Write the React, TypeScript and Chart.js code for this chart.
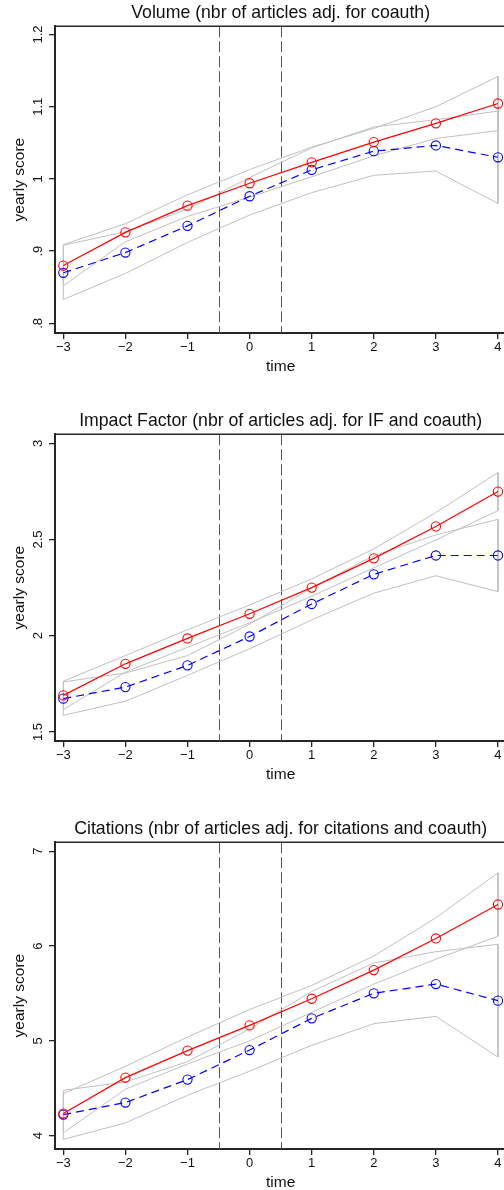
import React, { useEffect, useRef } from 'react';
import { Chart, registerables } from 'chart.js';

Chart.register(...registerables);

// ---------- shared ----------
const timePoints = [-3, -2, -1, 0, 1, 2, 3, 4];
const xTickLabels = ['\u22123', '\u22122', '\u22121', '0', '1', '2', '3', '4'];
const refLines = [-0.5, 0.5];
const xRange = [-3.134, 4.134];

// ---------- panel 1: Volume ----------
const volTitle = 'Volume (nbr of articles adj. for coauth)';
const volRed = [0.880, 0.926, 0.963, 0.994, 1.023, 1.051, 1.077, 1.1045];
const volRedUpper = [0.909, 0.938, 0.978, 1.013, 1.044, 1.070, 1.100, 1.142];
const volRedLower = [0.852, 0.913, 0.948, 0.975, 1.003, 1.032, 1.056, 1.067];
const volBlue = [0.870, 0.898, 0.935, 0.976, 1.0126, 1.0385, 1.0464, 1.030];
const volBlueUpper = [0.908, 0.927, 0.958, 1.002, 1.043, 1.072, 1.082, 1.094];
const volBlueLower = [0.833, 0.869, 0.912, 0.950, 0.981, 1.005, 1.011, 0.966];
const volYTicks = [0.8, 0.9, 1.0, 1.1, 1.2];
const volYLabels = ['.8', '.9', '1', '1.1', '1.2'];
const volYRange = [0.7866, 1.2115];

// ---------- panel 2: Impact Factor ----------
const ifTitle = 'Impact Factor (nbr of articles adj. for IF and coauth)';
const ifRed = [1.690, 1.854, 1.986, 2.114, 2.250, 2.402, 2.568, 2.749];
const ifRedUpper = [1.764, 1.897, 2.031, 2.160, 2.295, 2.451, 2.640, 2.848];
const ifRedLower = [1.616, 1.811, 1.940, 2.067, 2.205, 2.353, 2.498, 2.650];
const ifBlue = [1.673, 1.733, 1.846, 1.996, 2.165, 2.319, 2.417, 2.417];
const ifBlueUpper = [1.760, 1.806, 1.897, 2.060, 2.248, 2.416, 2.524, 2.605];
const ifBlueLower = [1.586, 1.660, 1.794, 1.932, 2.082, 2.221, 2.312, 2.229];
const ifYTicks = [1.5, 2, 2.5, 3];
const ifYLabels = ['1.5', '2', '2.5', '3'];
const ifYRange = [1.453, 3.047];

// ---------- panel 3: Citations ----------
const citTitle = 'Citations (nbr of articles adj. for citations and coauth)';
const citRed = [4.233, 4.612, 4.897, 5.163, 5.444, 5.746, 6.080, 6.438];
const citRedUpper = [4.443, 4.731, 5.040, 5.330, 5.585, 5.894, 6.298, 6.772];
const citRedLower = [4.030, 4.490, 4.756, 5.000, 5.300, 5.598, 5.862, 6.104];
const citBlue = [4.222, 4.349, 4.591, 4.903, 5.237, 5.501, 5.599, 5.424];
const citBlueUpper = [4.478, 4.566, 4.780, 5.126, 5.521, 5.821, 5.940, 6.019];
const citBlueLower = [3.960, 4.134, 4.426, 4.680, 4.953, 5.181, 5.258, 4.829];
const citYTicks = [4, 5, 6, 7];
const citYLabels = ['4', '5', '6', '7'];
const citYRange = [3.859, 7.095];

const FONT = "'Liberation Sans', Arial, Helvetica, sans-serif";
const AXIS_COLOR = '#262626';
const TEXT_COLOR = '#111';
const BAND_COLOR = '#c0c0c0';

type PanelProps = {
  title: string;
  red: number[];
  redUpper: number[];
  redLower: number[];
  blue: number[];
  blueUpper: number[];
  blueLower: number[];
  yTicks: number[];
  yLabels: string[];
  yRange: number[];
  top: number;
};

const toPoints = (vals: number[]) => timePoints.map((x, i) => ({ x, y: vals[i] }));

const bandPolygon = (upper: number[], lower: number[]) => {
  const up = timePoints.map((x, i) => ({ x, y: upper[i] }));
  const low = timePoints.map((x, i) => ({ x, y: lower[i] })).reverse();
  return [...up, ...low, { x: timePoints[0], y: upper[0] }];
};

function Panel(props: PanelProps) {
  const ref = useRef<HTMLCanvasElement | null>(null);
  useEffect(() => {
    if (!ref.current) return;
    const decor = {
      id: 'decor',
      beforeDatasetsDraw(chart: any) {
        const { ctx, chartArea, scales } = chart;
        ctx.save();
        ctx.strokeStyle = '#555555';
        ctx.lineWidth = 1;
        ctx.setLineDash([11, 4]);
        refLines.forEach((v) => {
          const x = Math.round(scales.x.getPixelForValue(v)) + 0.5;
          ctx.beginPath();
          ctx.moveTo(x, chartArea.top);
          ctx.lineTo(x, chartArea.bottom);
          ctx.stroke();
        });
        ctx.restore();
      },
      afterDraw(chart: any) {
        const { ctx, chartArea, scales } = chart;
        ctx.save();
        // top / right frame line
        ctx.strokeStyle = AXIS_COLOR;
        ctx.lineWidth = 1.5;
        ctx.beginPath();
        ctx.moveTo(chartArea.left, chartArea.top);
        ctx.lineTo(chartArea.right, chartArea.top);
        ctx.lineTo(chartArea.right, chartArea.bottom);
        ctx.stroke();
        // rotated y tick labels
        ctx.fillStyle = TEXT_COLOR;
        ctx.font = `13px ${FONT}`;
        ctx.textAlign = 'center';
        ctx.textBaseline = 'middle';
        props.yTicks.forEach((v, i) => {
          const y = scales.y.getPixelForValue(v);
          ctx.save();
          ctx.translate(chartArea.left - 16.8, y);
          ctx.rotate(-Math.PI / 2);
          ctx.fillText(props.yLabels[i], 0, 0);
          ctx.restore();
        });
        ctx.restore();
      },
    };

    const chart = new Chart(ref.current, {
      type: 'scatter',
      data: {
        datasets: [
          {
            data: toPoints(props.red),
            showLine: true,
            borderColor: '#ff0000',
            borderWidth: 1.2,
            pointStyle: 'circle',
            pointRadius: 4.6,
            pointBorderWidth: 1.1,
            pointBorderColor: '#ff0000',
            pointBackgroundColor: 'rgba(0,0,0,0)',
            fill: false,
          },
          {
            data: toPoints(props.blue),
            showLine: true,
            borderColor: '#0000ff',
            borderWidth: 1.2,
            borderDash: [8, 5],
            pointStyle: 'circle',
            pointRadius: 4.6,
            pointBorderWidth: 1.1,
            pointBorderColor: '#0000ff',
            pointBackgroundColor: 'rgba(0,0,0,0)',
            fill: false,
          },
          {
            data: bandPolygon(props.redUpper, props.redLower),
            showLine: true,
            borderColor: BAND_COLOR,
            borderWidth: 1,
            pointRadius: 0,
            fill: false,
          },
          {
            data: bandPolygon(props.blueUpper, props.blueLower),
            showLine: true,
            borderColor: BAND_COLOR,
            borderWidth: 1,
            pointRadius: 0,
            fill: false,
          },
        ],
      },
      options: {
        animation: false,
        responsive: false,
        devicePixelRatio: 1,
        layout: { padding: { left: 0, right: 5, top: 0, bottom: 0 } },
        plugins: {
          legend: { display: false },
          tooltip: { enabled: false },
          title: {
            display: true,
            fullSize: false,
            text: props.title,
            color: TEXT_COLOR,
            font: { family: FONT, size: 17.7, weight: 'normal' },
            padding: { top: 2, bottom: 3 },
          },
        },
        scales: {
          x: {
            type: 'linear',
            min: xRange[0],
            max: xRange[1],
            afterBuildTicks: (s: any) => {
              s.ticks = timePoints.map((v) => ({ value: v }));
            },
            afterFit: (s: any) => {
              s.height = 75;
            },
            ticks: {
              color: TEXT_COLOR,
              font: { family: FONT, size: 13 },
              padding: 1,
              maxRotation: 0,
              callback: (v: any) => xTickLabels[timePoints.indexOf(Number(v))],
            },
            grid: {
              display: true,
              drawOnChartArea: false,
              drawTicks: true,
              tickLength: 6,
              color: AXIS_COLOR,
              lineWidth: 1.3,
            },
            border: { display: true, color: AXIS_COLOR, width: 2 },
            title: {
              display: true,
              text: 'time',
              color: TEXT_COLOR,
              font: { family: FONT, size: 15.5 },
              padding: { top: 0, bottom: 32 },
            },
          },
          y: {
            type: 'linear',
            min: props.yRange[0],
            max: props.yRange[1],
            afterBuildTicks: (s: any) => {
              s.ticks = props.yTicks.map((v) => ({ value: v }));
            },
            afterFit: (s: any) => {
              s.width = 55;
            },
            ticks: { display: false },
            grid: {
              display: true,
              drawOnChartArea: false,
              drawTicks: true,
              tickLength: 6,
              color: AXIS_COLOR,
              lineWidth: 1.3,
            },
            border: { display: true, color: AXIS_COLOR, width: 2 },
            title: {
              display: true,
              text: 'yearly score',
              color: TEXT_COLOR,
              font: { family: FONT, size: 15.5 },
              padding: { top: 10, bottom: 0 },
            },
          },
        },
      },
      plugins: [decor],
    } as any);
    return () => chart.destroy();
  }, []);

  return (
    <canvas
      ref={ref}
      width={512}
      height={408}
      style={{ position: 'absolute', left: 0, top: props.top, width: 512, height: 408 }}
    />
  );
}

export default function App() {
  return (
    <div
      style={{
        position: 'absolute',
        left: 0,
        top: 0,
        width: 504,
        height: 1190,
        overflow: 'hidden',
        background: '#ffffff',
      }}
    >
      <Panel
        title={volTitle}
        red={volRed}
        redUpper={volRedUpper}
        redLower={volRedLower}
        blue={volBlue}
        blueUpper={volBlueUpper}
        blueLower={volBlueLower}
        yTicks={volYTicks}
        yLabels={volYLabels}
        yRange={volYRange}
        top={0}
      />
      <Panel
        title={ifTitle}
        red={ifRed}
        redUpper={ifRedUpper}
        redLower={ifRedLower}
        blue={ifBlue}
        blueUpper={ifBlueUpper}
        blueLower={ifBlueLower}
        yTicks={ifYTicks}
        yLabels={ifYLabels}
        yRange={ifYRange}
        top={408}
      />
      <Panel
        title={citTitle}
        red={citRed}
        redUpper={citRedUpper}
        redLower={citRedLower}
        blue={citBlue}
        blueUpper={citBlueUpper}
        blueLower={citBlueLower}
        yTicks={citYTicks}
        yLabels={citYLabels}
        yRange={citYRange}
        top={816}
      />
    </div>
  );
}
